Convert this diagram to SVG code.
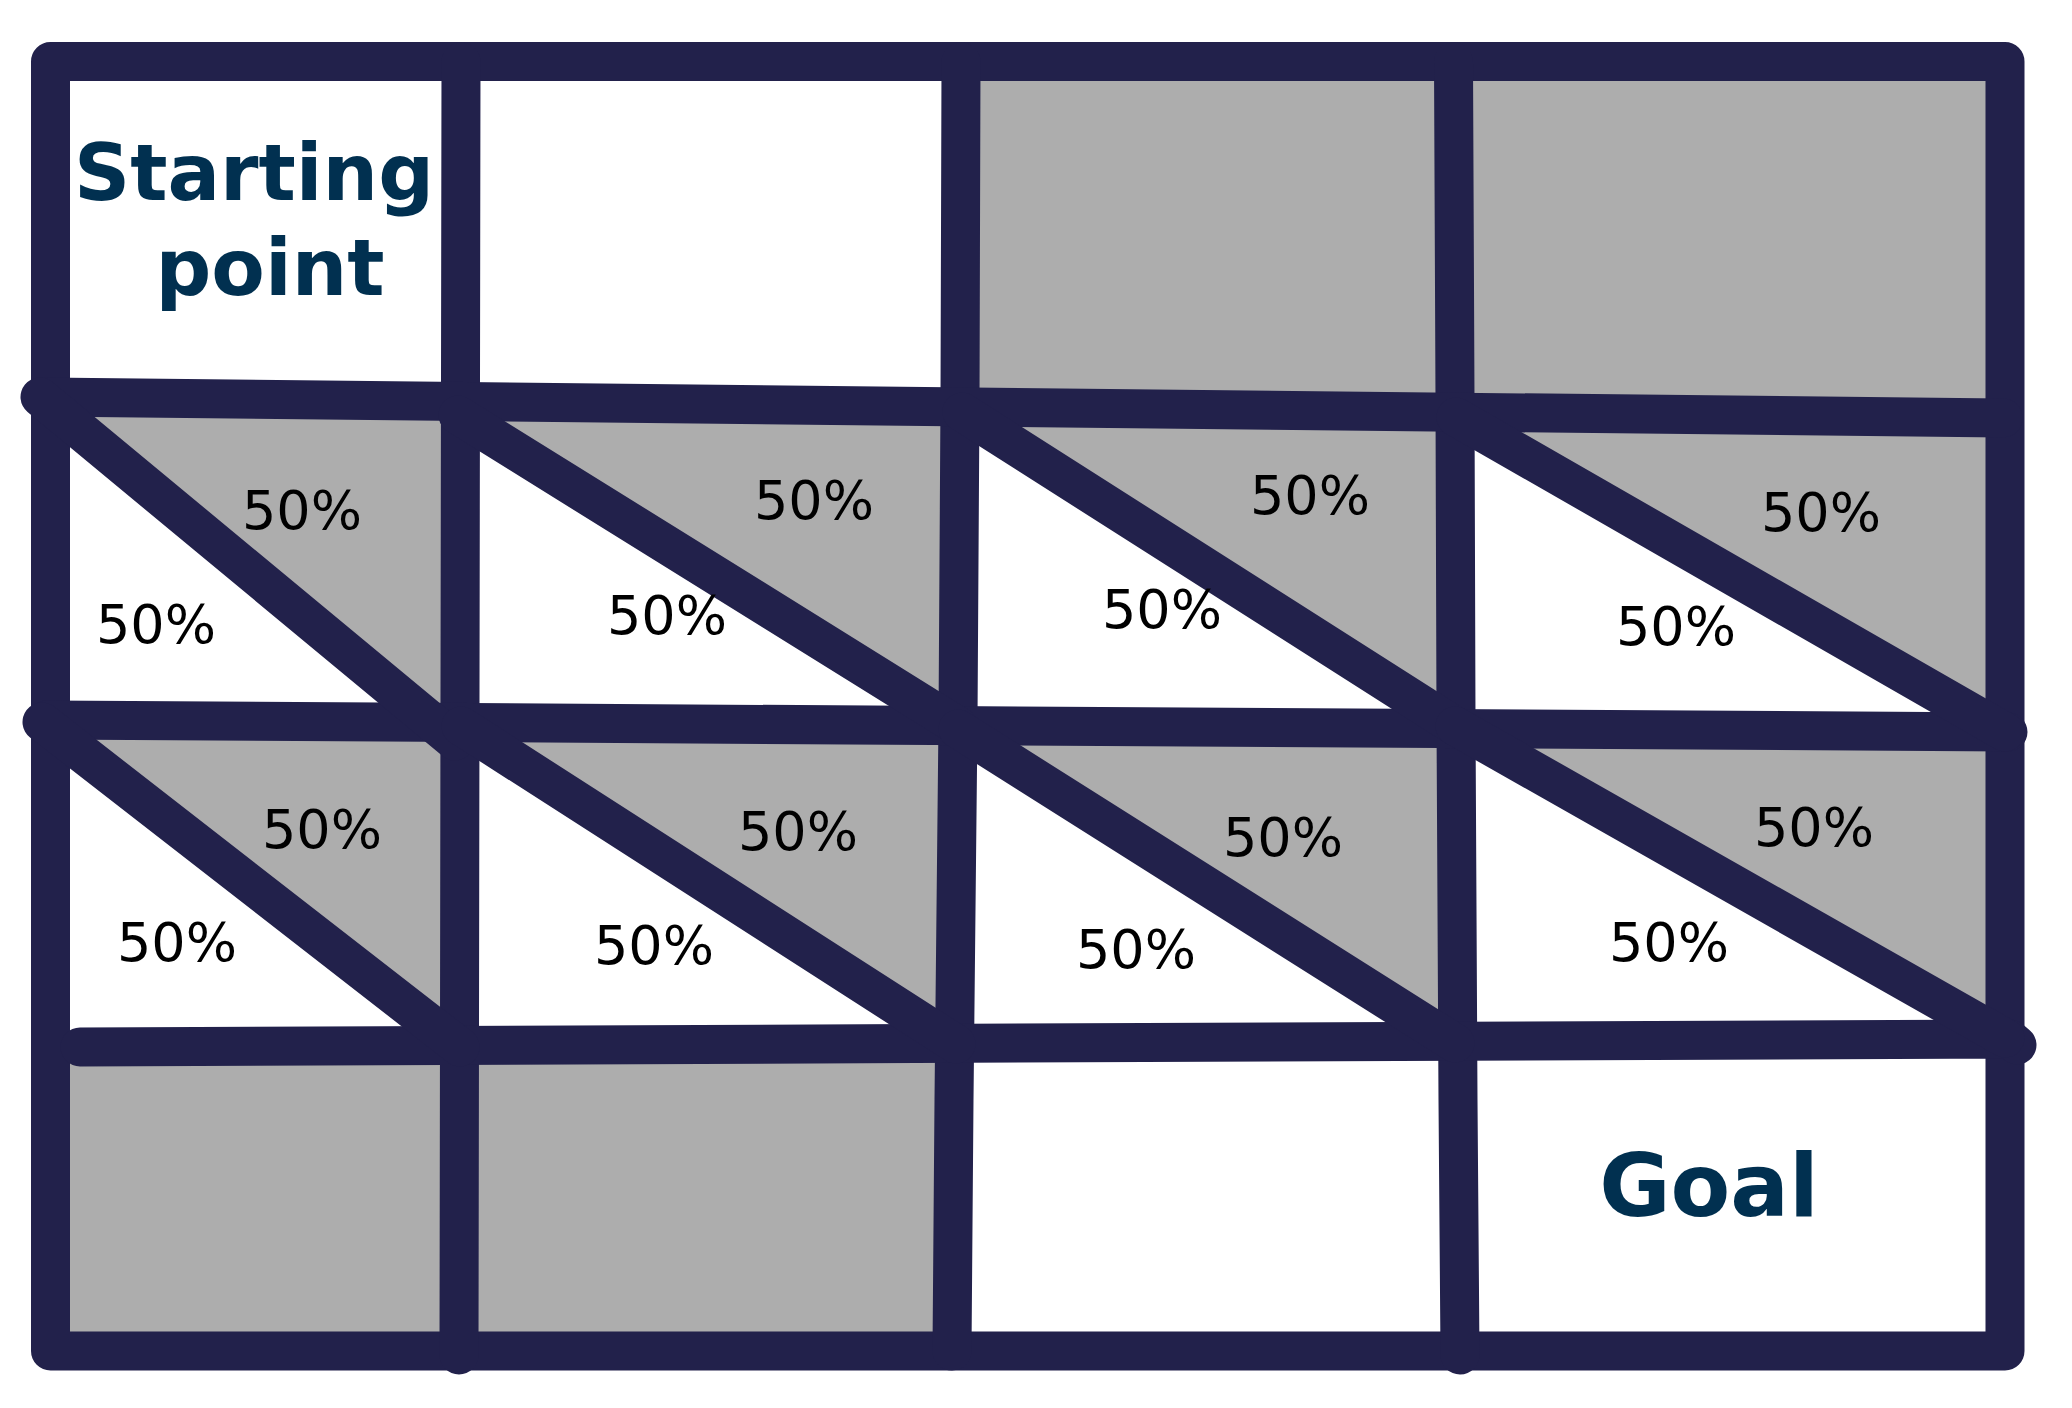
<svg xmlns="http://www.w3.org/2000/svg" width="2072" height="1408" viewBox="0 0 2072 1408">
<style>
.g{fill:#adadad;stroke:none}
.ln{fill:none;stroke:#22214b;stroke-width:39;stroke-linecap:round;stroke-linejoin:round}
.p{font-family:"DejaVu Sans","Liberation Sans",sans-serif;font-size:54px;fill:#000}
.t{font-family:"DejaVu Sans","Liberation Sans",sans-serif;font-weight:bold;fill:#013050;text-anchor:middle}
</style>
<rect x="0" y="0" width="2072" height="1408" fill="#fff"/>
<g id="cell-r1c0"></g>
<g id="cell-r1c1"></g>
<g id="cell-r1c2"><polygon class="g" points="961,62 1454,62 1455,412 960,406"/></g>
<g id="cell-r1c3"><polygon class="g" points="1454,62 2005,62 2005,418 1455,412"/></g>
<g id="cell-r2c0"><polygon class="g" points="40,397 461,401 461,745 455,741"/></g>
<g id="cell-r2c1"><polygon class="g" points="461,401 960,406 958,726 458,415"/></g>
<g id="cell-r2c2"><polygon class="g" points="960,406 1455,412 1455,726 962,412"/></g>
<g id="cell-r2c3"><polygon class="g" points="1455,412 2005,418 2005,732 1456,417"/></g>
<g id="cell-r3c0"><polygon class="g" points="42,722 460,723 460,1047"/></g>
<g id="cell-r3c1"><polygon class="g" points="461,723 958,727 956,1044 461,726"/></g>
<g id="cell-r3c2"><polygon class="g" points="958,727 1456,729 1455,1043 958,729"/></g>
<g id="cell-r3c3"><polygon class="g" points="1456,729 2005,732 2005,1038 1455,726"/></g>
<g id="cell-r4c0"><polygon class="g" points="50,1047 460,1045 459,1351 50,1351"/></g>
<g id="cell-r4c1"><polygon class="g" points="460,1045 954,1043 952,1351 459,1351"/></g>
<g id="connectors">
<path class="ln" d="M50.5 61.5 H2005 V1351 H50.5 Z"/>
<path class="ln" d="M461 62 L460 700 L459 1355"/>
<path class="ln" d="M961 62 L960 400 L958 720 L954 1100 L952 1351"/>
<path class="ln" d="M1453.5 62 L1455 400 L1456 720 L1458 1100 L1460 1355"/>
<path class="ln" d="M46 397 L2003 418"/>
<path class="ln" d="M47 720 L2008 732"/>
<path class="ln" d="M80 1047 L2010 1039 L2017 1045"/>
<path class="ln" d="M40 397 L455 741"/>
<path class="ln" d="M458 415 L958 726"/>
<path class="ln" d="M962 412 L1455 726"/>
<path class="ln" d="M1456 417 L2005 732"/>
<path class="ln" d="M42 722 L460 1047"/>
<path class="ln" d="M461 726 L956 1044"/>
<path class="ln" d="M958 729 L1455 1043"/>
<path class="ln" d="M1455 726 L2005 1038"/>
</g>
<g id="label-start">
<text class="t" font-size="78" x="254" y="200">Starting</text>
<text class="t" font-size="78" x="270" y="295">point</text>
</g>
<g id="label-goal"><text class="t" font-size="87" x="1709" y="1216">Goal</text></g>
<g id="labels-pct">
<text class="p" x="242" y="529">50%</text>
<text class="p" x="96" y="643">50%</text>
<text class="p" x="754" y="519">50%</text>
<text class="p" x="607" y="634">50%</text>
<text class="p" x="1250" y="514">50%</text>
<text class="p" x="1102" y="628">50%</text>
<text class="p" x="1761" y="531">50%</text>
<text class="p" x="1616" y="645">50%</text>
<text class="p" x="262" y="848">50%</text>
<text class="p" x="117" y="961">50%</text>
<text class="p" x="738" y="850">50%</text>
<text class="p" x="594" y="964">50%</text>
<text class="p" x="1223" y="856">50%</text>
<text class="p" x="1076" y="968">50%</text>
<text class="p" x="1754" y="846">50%</text>
<text class="p" x="1609" y="961">50%</text>
</g>
</svg>
